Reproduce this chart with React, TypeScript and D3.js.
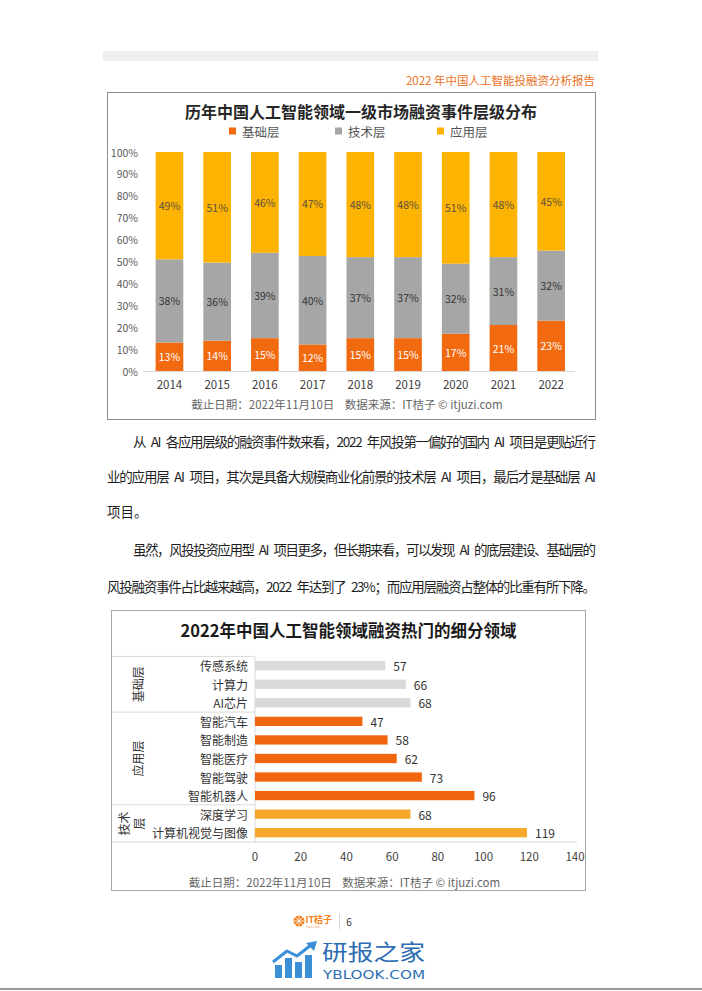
import React from 'react';
import * as d3 from 'd3';

// ---- data: top chart (stacked 100% columns) ----
const years = ['2014', '2015', '2016', '2017', '2018', '2019', '2020', '2021', '2022'];
const baseLayer = [13, 14, 15, 12, 15, 15, 17, 21, 23];
const techLayer = [38, 36, 39, 40, 37, 37, 32, 31, 32];
const appLayer = [49, 51, 46, 47, 48, 48, 51, 48, 45];
const layerNames = ['基础层', '技术层', '应用层'];
const pctTicks = [0, 10, 20, 30, 40, 50, 60, 70, 80, 90, 100];

// ---- data: bottom chart (horizontal bars) ----
const segments = ['传感系统', '计算力', 'AI芯片', '智能汽车', '智能制造', '智能医疗', '智能驾驶', '智能机器人', '深度学习', '计算机视觉与图像'];
const segmentCounts = [57, 66, 68, 47, 58, 62, 73, 96, 68, 119];
const segmentGroup = ['基础层', '基础层', '基础层', '应用层', '应用层', '应用层', '应用层', '应用层', '技术层', '技术层'];
const countTicks = [0, 20, 40, 60, 80, 100, 120, 140];

const FONT = '"Noto Sans CJK SC", "Noto Sans", sans-serif';
const ORANGE = '#f26a10';
const GRAY = '#a6a6a6';
const YELLOW = '#fdb302';

const stackColors: Record<string, string> = { '基础层': ORANGE, '技术层': GRAY, '应用层': YELLOW };
const stackLabelColors: Record<string, string> = { '基础层': '#ffffff', '技术层': '#333333', '应用层': '#5b5040' };
const groupColors: Record<string, string> = { '基础层': '#dadada', '应用层': '#f2650f', '技术层': '#f5a82c' };

function TopChart() {
  const x = d3.scaleBand<string>().domain(years).range([145.6, 575]).paddingInner(0.42).paddingOuter(0.21);
  const y = d3.scaleLinear().domain([0, 100]).range([371, 152]);

  const rows = years.map((yr, i) => {
    const total = baseLayer[i] + techLayer[i] + appLayer[i];
    return { year: yr, '基础层': baseLayer[i] * 100 / total, '技术层': techLayer[i] * 100 / total, '应用层': appLayer[i] * 100 / total, raw: [baseLayer[i], techLayer[i], appLayer[i]] };
  });
  const stack = d3.stack<any>().keys(layerNames)(rows);

  const legendX = [233, 339, 441];

  return (
    <g fontFamily={FONT}>
      <rect x={107.5} y={92.5} width={488} height={327} fill="#fff" stroke="#8c8c8c" strokeWidth={1} />
      <text x={361} y={111} textAnchor="middle" dominantBaseline="central" fontSize={16} fontWeight={700} fill="#262626">
        历年中国人工智能领域一级市场融资事件层级分布
      </text>
      {layerNames.map((n, i) => (
        <g key={n}>
          <rect x={legendX[i] - 4} y={127.5} width={7} height={7} fill={stackColors[n]} />
          <text x={legendX[i] + 9} y={131} dominantBaseline="central" fontSize={12.5} fill="#555">{n}</text>
        </g>
      ))}
      {pctTicks.map(t => (
        <text key={t} x={138} y={y(t)} textAnchor="end" dominantBaseline="central" fontSize={10.5} fill="#595959">{t}%</text>
      ))}
      {stack.map((layer, li) => (
        <g key={layer.key}>
          {layer.map((d, i) => (
            <g key={i}>
              <rect x={x(years[i])} y={y(d[1])} width={x.bandwidth()} height={y(d[0]) - y(d[1])} fill={stackColors[layer.key]} />
              <text x={(x(years[i]) as number) + x.bandwidth() / 2} y={y((d[0] + d[1]) / 2)} textAnchor="middle" dominantBaseline="central" fontSize={10.5} fill={stackLabelColors[layer.key]}>
                {rows[i].raw[li]}%
              </text>
            </g>
          ))}
        </g>
      ))}
      <line x1={143} x2={575} y1={371.5} y2={371.5} stroke="#d9d9d9" strokeWidth={1} />
      {years.map(yr => (
        <text key={yr} x={(x(yr) as number) + x.bandwidth() / 2} y={384} textAnchor="middle" dominantBaseline="central" fontSize={11.5} fill="#404040">{yr}</text>
      ))}
      <text x={347} y={404} textAnchor="middle" dominantBaseline="central" fontSize={11.5} fill="#666" xmlSpace="preserve">
        截止日期：2022年11月10日    数据来源：IT桔子 © itjuzi.com
      </text>
    </g>
  );
}

function BottomChart() {
  const x = d3.scaleLinear().domain([0, 140]).range([255, 575]);
  const y = d3.scaleBand<string>().domain(segments).range([656.4, 842]).paddingInner(0.5).paddingOuter(0.25);
  const step = y.step();
  const top = 656.4;

  // group extents from the segment list
  const groups: { name: string; start: number; end: number }[] = [];
  segmentGroup.forEach((g, i) => {
    const last = groups[groups.length - 1];
    if (last && last.name === g) last.end = i + 1;
    else groups.push({ name: g, start: i, end: i + 1 });
  });

  return (
    <g fontFamily={FONT}>
      <rect x={111.5} y={610.5} width={474} height={280} fill="#fff" stroke="#a6a6a6" strokeWidth={1} />
      <text x={348.5} y={630} textAnchor="middle" dominantBaseline="central" fontSize={16.5} fontWeight={700} fill="#1a1a1a">
        2022年中国人工智能领域融资热门的细分领域
      </text>
      {groups.map(g => (
        <line key={'s' + g.name} x1={112} x2={255} y1={top + g.start * step} y2={top + g.start * step} stroke="#d9d9d9" strokeWidth={1} />
      ))}
      <line x1={255} x2={255} y1={top} y2={842} stroke="#d9d9d9" strokeWidth={1} />
      <line x1={112} x2={577} y1={842} y2={842} stroke="#d9d9d9" strokeWidth={1} />
      {groups.map(g => {
        const cy = top + (g.start + g.end) / 2 * step;
        if (g.end - g.start < 3) {
          return (
            <g key={g.name} transform={`translate(130,${cy}) rotate(-90)`}>
              <text x={0} y={-7} textAnchor="middle" dominantBaseline="central" fontSize={12} fill="#333">{g.name.slice(0, 2)}</text>
              <text x={0} y={8} textAnchor="middle" dominantBaseline="central" fontSize={12} fill="#333">{g.name.slice(2)}</text>
            </g>
          );
        }
        return (
          <text key={g.name} transform={`translate(137,${cy}) rotate(-90)`} textAnchor="middle" dominantBaseline="central" fontSize={12} fill="#333">{g.name}</text>
        );
      })}
      {segments.map((s, i) => (
        <g key={s}>
          <text x={248} y={(y(s) as number) + y.bandwidth() / 2} textAnchor="end" dominantBaseline="central" fontSize={12} fill="#333">{s}</text>
          <rect x={x(0)} y={y(s)} width={x(segmentCounts[i]) - x(0)} height={y.bandwidth()} fill={groupColors[segmentGroup[i]]} />
          <text x={x(segmentCounts[i]) + 8} y={(y(s) as number) + y.bandwidth() / 2} dominantBaseline="central" fontSize={12} fill="#333">{segmentCounts[i]}</text>
        </g>
      ))}
      {countTicks.map(t => (
        <text key={t} x={x(t)} y={856} textAnchor="middle" dominantBaseline="central" fontSize={11.5} fill="#404040">{t}</text>
      ))}
      <text x={344.5} y={881.5} textAnchor="middle" dominantBaseline="central" fontSize={11.5} fill="#666" xmlSpace="preserve">
        截止日期：2022年11月10日    数据来源：IT桔子 © itjuzi.com
      </text>
    </g>
  );
}

const bodyLines = [
  { text: '从 AI 各应用层级的融资事件数来看，2022 年风投第一偏好的国内 AI 项目是更贴近行', x: 133, y: 441, justify: true },
  { text: '业的应用层 AI 项目，其次是具备大规模商业化前景的技术层 AI 项目，最后才是基础层 AI', x: 107, y: 476, justify: true },
  { text: '项目。', x: 107, y: 511, justify: false },
  { text: '虽然，风投投资应用型 AI 项目更多，但长期来看，可以发现 AI 的底层建设、基础层的', x: 133, y: 549, justify: true },
  { text: '风投融资事件占比越来越高，2022 年达到了 23%；而应用层融资占整体的比重有所下降。', x: 107, y: 586, justify: true },
];

export default function App() {
  return (
    <div style={{ position: 'absolute', left: 0, top: 0 }}>
      <svg width={702} height={991} viewBox="0 0 702 991" style={{ display: 'block', background: '#fff' }}>
        <rect width={702} height={991} fill="#fff" />
        {/* page header */}
        <rect x={103} y={51} width={495} height={10} fill="#efefef" />
        <text x={595} y={80} textAnchor="end" dominantBaseline="central" fontFamily={FONT} fontSize={11.5} fill="#ea6f1c">
          2022 年中国人工智能投融资分析报告
        </text>

        <TopChart />

        {bodyLines.map((l, i) => (
          <text key={i} x={l.x} y={l.y} dominantBaseline="central" fontFamily={FONT} fontSize={13.5} fill="#1f1f1f"
            textLength={l.justify ? 596 - l.x : undefined} lengthAdjust="spacing" xmlSpace="preserve">
            {l.text.replace(/ /g, '\u2002')}
          </text>
        ))}

        <BottomChart />

        {/* page footer logo */}
        <g fontFamily={FONT}>
          <circle cx={299} cy={921} r={5.5} fill="#f58220" />
          {[0, 45, 90, 135].map(a => (
            <line key={a} x1={299 - 5.5 * Math.cos(a * Math.PI / 180)} y1={921 - 5.5 * Math.sin(a * Math.PI / 180)}
              x2={299 + 5.5 * Math.cos(a * Math.PI / 180)} y2={921 + 5.5 * Math.sin(a * Math.PI / 180)} stroke="#fff" strokeWidth={0.8} />
          ))}
          <text x={305.5} y={919} dominantBaseline="central" fontSize={9} fontWeight={700} fill="#f58220">IT桔子</text>
          <text x={306} y={926.5} dominantBaseline="central" fontSize={3} fill="#f5a060">itjuzi.com</text>
          <line x1={339.5} x2={339.5} y1={914} y2={929} stroke="#ccc" strokeWidth={0.8} />
          <text x={349} y={921} textAnchor="middle" dominantBaseline="central" fontSize={10} fill="#333">6</text>
        </g>

        {/* watermark */}
        <g>
          <rect x={275} y={965} width={7} height={13} fill="#3b8fd6" />
          <rect x={285} y={958} width={7} height={20} fill="#3b8fd6" />
          <rect x={295} y={962} width={7} height={16} fill="#3b8fd6" />
          <rect x={305} y={955} width={7} height={23} fill="#3b8fd6" />
          <polyline points="273,962 287,951 297,956 311,945" fill="none" stroke="#3b8fd6" strokeWidth={3} strokeLinejoin="round" />
          <polygon points="306,943 317,941 314,951" fill="#3b8fd6" />
          <text x={322} y={950} dominantBaseline="central" fontFamily={FONT} fontSize={22} fill="#2c6db3" textLength={103} lengthAdjust="spacingAndGlyphs">研报之家</text>
          <text x={323} y={975} dominantBaseline="central" fontFamily="'DejaVu Sans', sans-serif" fontSize={12} fill="#2c6db3" textLength={102} lengthAdjust="spacingAndGlyphs">YBLOOK.COM</text>
        </g>
        <rect x={0} y={988} width={702} height={2} fill="#9a9a9a" />
      </svg>
    </div>
  );
}
